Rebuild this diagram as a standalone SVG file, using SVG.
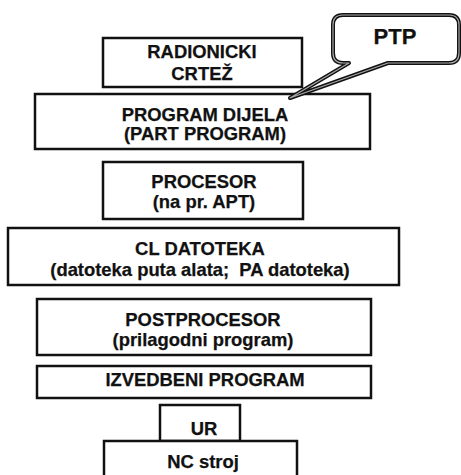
<svg xmlns="http://www.w3.org/2000/svg" width="461" height="475" viewBox="0 0 461 475">
<style>
.box{fill:#fff;stroke:#111;stroke-width:2.5}
.t{font-family:"Liberation Sans",Arial,sans-serif;font-weight:bold;font-size:18.4px;fill:#111;stroke:#111;stroke-width:0.25;text-anchor:middle;white-space:pre}
.co{fill:#fff;stroke:#111;stroke-width:4;stroke-linejoin:round}
.coi{fill:none;stroke:#aaa;stroke-width:1.2;stroke-linejoin:round}
</style>
<rect width="461" height="475" fill="#fff"/>
<g id="radionicki">
<rect class="box" x="103" y="38" width="199" height="49"/>
<text class="t" x="202" y="58">RADIONICKI</text>
<text class="t" x="202" y="80">CRTEŽ</text>
</g>
<g id="program-dijela">
<rect class="box" x="35" y="94" width="335" height="55"/>
<text class="t" x="205" y="121">PROGRAM DIJELA</text>
<text class="t" x="205" y="140">(PART PROGRAM)</text>
</g>
<g id="procesor">
<rect class="box" x="103" y="162" width="200" height="57"/>
<text class="t" x="204" y="188">PROCESOR</text>
<text class="t" x="204" y="208">(na pr. APT)</text>
</g>
<g id="cl-datoteka">
<rect class="box" x="8" y="228" width="391" height="57"/>
<text class="t" x="200" y="255">CL DATOTEKA</text>
<text class="t" x="200" y="276" xml:space="preserve">(datoteka puta alata;  PA datoteka)</text>
</g>
<g id="postprocesor">
<rect class="box" x="37" y="299" width="334" height="56"/>
<text class="t" x="203" y="326">POSTPROCESOR</text>
<text class="t" x="203" y="346">(prilagodni program)</text>
</g>
<g id="izvedbeni">
<rect class="box" x="37" y="366" width="334" height="32"/>
<text class="t" x="205" y="386">IZVEDBENI PROGRAM</text>
</g>
<g id="ur">
<rect class="box" x="160" y="405" width="80" height="36"/>
<text class="t" x="204" y="435">UR</text>
</g>
<g id="nc-stroj">
<rect class="box" x="104" y="441" width="193" height="45"/>
<text class="t" x="203" y="468">NC stroj</text>
</g>
<g id="ptp">
<path class="co" d="M343,15 H449 Q459,15 459,25 V53 Q459,63 449,63 H388 L290,98 L349,63 H343 Q333,63 333,53 V25 Q333,15 343,15 Z"/>
<path class="coi" d="M343,15 H449 Q459,15 459,25 V53 Q459,63 449,63 H388 L290,98 L349,63 H343 Q333,63 333,53 V25 Q333,15 343,15 Z"/>
<text class="t" x="395" y="44" style="font-size:22px">PTP</text>
</g>
<g id="connectors"></g>
</svg>
